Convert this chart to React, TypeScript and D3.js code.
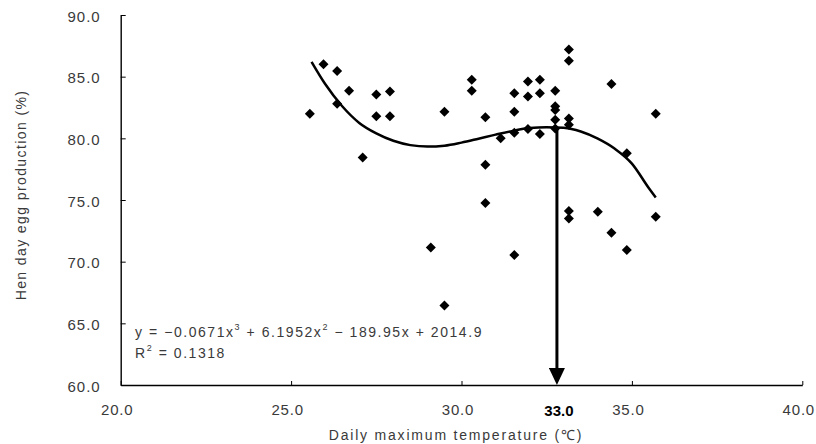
import React, { useRef, useEffect } from 'react';
import * as d3 from 'd3';

// daily max temperature (°C) and hen-day egg production (%)
const temperature = [
  25.55, 25.95, 26.35, 26.35, 26.7, 27.5, 27.9, 27.5, 27.9, 27.1,
  29.5, 30.3, 30.3, 30.7, 30.7, 30.7, 31.15, 31.55, 31.55, 31.55,
  31.95, 31.95, 31.95, 32.3, 32.3, 32.3, 32.75, 32.75, 32.75, 32.75,
  32.75, 33.15, 33.15, 33.15, 33.15, 34.4, 35.7, 34.85, 29.1, 31.55,
  33.15, 33.15, 34.0, 35.7, 34.4, 34.85, 29.5,
];
const eggProduction = [
  82.0, 86.0, 85.45, 82.8, 83.85, 83.55, 83.8, 81.8, 81.8, 78.45,
  82.15, 84.75, 83.85, 81.7, 77.85, 74.75, 80.0, 83.65, 82.15, 80.45,
  84.6, 83.4, 80.75, 84.75, 83.65, 80.35, 83.85, 82.6, 82.3, 81.5,
  80.8, 87.2, 86.3, 81.6, 81.1, 84.4, 82.0, 78.8, 71.15, 70.55,
  74.1, 73.5, 74.05, 73.65, 72.35, 70.95, 66.45,
];

// polynomial trendline
const trendTemp = [
  25.6, 26.0, 26.5, 27.0, 27.5, 28.0, 28.5, 29.0, 29.5, 30.0, 30.5,
  31.0, 31.5, 32.0, 32.5, 33.0, 33.5, 34.0, 34.5, 35.0, 35.5, 35.7,
];
const trendEgg = [
  86.2, 84.4, 82.6, 81.25, 80.4, 79.8, 79.45, 79.33, 79.4, 79.65, 79.97,
  80.3, 80.6, 80.83, 80.9, 80.85, 80.55, 79.97, 79.15, 77.95, 75.95, 75.2,
];

const xTicks = [20, 25, 30, 35, 40];
const yTicks = [60, 65, 70, 75, 80, 85, 90];

const optimumTemp = 32.8;
const optimumEgg = 80.9;
const optimumLabel = '33.0';

const FONT = '"Liberation Sans", Arial, sans-serif';
const GREY = '#3a3a3a';

const App = () => {
  const svgRef = useRef<SVGSVGElement>(null);
  const width = 816;
  const height = 444;

  useEffect(() => {
    if (!svgRef.current) return;
    const svg = d3.select(svgRef.current);
    svg.selectAll('*').remove();

    const x = d3.scaleLinear().domain([20, 40]).range([120.7, 802.3]);
    const y = d3.scaleLinear().domain([60, 90]).range([385, 15]);

    // arrow marker, tip sits on the line end
    svg.append('defs')
      .append('marker')
      .attr('id', 'arrowhead')
      .attr('viewBox', '0 0 16 17')
      .attr('refX', 8)
      .attr('refY', 17)
      .attr('markerWidth', 16)
      .attr('markerHeight', 17)
      .attr('markerUnits', 'userSpaceOnUse')
      .attr('orient', '0')
      .append('path')
      .attr('d', 'M0,0 L16,0 L8,17 Z')
      .attr('fill', '#000');

    // X axis
    const xAxis = svg.append('g')
      .attr('transform', `translate(0,${y(60)})`)
      .call(d3.axisBottom(x).tickValues(xTicks).tickSizeInner(-4).tickSizeOuter(0).tickFormat(d3.format('.1f')));
    xAxis.select('.domain').attr('stroke', '#000').attr('stroke-width', 1.4);
    xAxis.selectAll('line').attr('stroke', '#000').attr('stroke-width', 1);
    xAxis.selectAll('text')
      .attr('y', 30)
      .attr('dy', 0)
      .attr('dx', -4)
      .attr('fill', GREY)
      .attr('font-family', FONT)
      .attr('font-size', 15)
      .attr('letter-spacing', 0.8);

    // Y axis
    const yAxis = svg.append('g')
      .attr('transform', `translate(${x(20)},0)`)
      .call(d3.axisLeft(y).tickValues(yTicks).tickSizeInner(-5).tickSizeOuter(0).tickFormat(d3.format('.1f')));
    yAxis.select('.domain').attr('stroke', '#000').attr('stroke-width', 1.4);
    yAxis.selectAll('line').attr('stroke', '#000').attr('stroke-width', 1);
    yAxis.selectAll('text')
      .attr('x', -20)
      .attr('dy', '0.4em')
      .attr('fill', GREY)
      .attr('font-family', FONT)
      .attr('font-size', 15)
      .attr('letter-spacing', 1);

    // scatter points (diamonds)
    const diamond = d3.symbol().type(d3.symbolSquare).size(50);
    svg.append('g')
      .selectAll('path')
      .data(temperature.map((t, i) => ({ t, v: eggProduction[i] })))
      .enter()
      .append('path')
      .attr('d', diamond)
      .attr('transform', d => `translate(${x(d.t)},${y(d.v)}) rotate(45)`)
      .attr('fill', '#000');

    // trendline
    const line = d3.line<number>()
      .x(d => x(d))
      .y((d, i) => y(trendEgg[i]))
      .curve(d3.curveMonotoneX);
    svg.append('path')
      .datum(trendTemp)
      .attr('fill', 'none')
      .attr('stroke', '#000')
      .attr('stroke-width', 2.5)
      .attr('d', line);

    // arrow down to the optimum temperature
    svg.append('line')
      .attr('x1', x(optimumTemp))
      .attr('x2', x(optimumTemp))
      .attr('y1', y(optimumEgg))
      .attr('y2', y(60) - 6)
      .attr('stroke', '#000')
      .attr('stroke-width', 3);
    svg.append('line')
      .attr('x1', x(optimumTemp))
      .attr('x2', x(optimumTemp))
      .attr('y1', y(60) - 8)
      .attr('y2', y(60))
      .attr('stroke', 'none')
      .attr('marker-end', 'url(#arrowhead)');

    svg.append('text')
      .attr('x', x(optimumTemp) + 2)
      .attr('y', 416)
      .attr('text-anchor', 'middle')
      .attr('font-family', FONT)
      .attr('font-size', 15)
      .attr('font-weight', 'bold')
      .attr('fill', '#000')
      .text(optimumLabel);

    // regression equation
    const eq = svg.append('text')
      .attr('x', 135)
      .attr('y', 337)
      .attr('font-family', FONT)
      .attr('font-size', 14)
      .attr('letter-spacing', 1.55)
      .attr('fill', GREY);
    eq.append('tspan').text('y = \u22120.0671x');
    eq.append('tspan').attr('font-size', 9).attr('dy', -7).text('3');
    eq.append('tspan').attr('dy', 7).text(' + 6.1952x');
    eq.append('tspan').attr('font-size', 9).attr('dy', -7).text('2');
    eq.append('tspan').attr('dy', 7).text(' \u2212 189.95x + 2014.9');

    const r2 = svg.append('text')
      .attr('x', 135)
      .attr('y', 358)
      .attr('font-family', FONT)
      .attr('font-size', 14)
      .attr('letter-spacing', 1.55)
      .attr('fill', GREY);
    r2.append('tspan').text('R');
    r2.append('tspan').attr('font-size', 9).attr('dy', -7).text('2');
    r2.append('tspan').attr('dy', 7).text(' = 0.1318');

    // axis titles
    svg.append('text')
      .attr('transform', `translate(26,195) rotate(-90)`)
      .attr('text-anchor', 'middle')
      .attr('font-family', FONT)
      .attr('font-size', 14)
      .attr('letter-spacing', 1.4)
      .attr('fill', GREY)
      .text('Hen day egg production (%)');

    svg.append('text')
      .attr('x', 456)
      .attr('y', 440)
      .attr('text-anchor', 'middle')
      .attr('font-family', FONT)
      .attr('font-size', 14)
      .attr('letter-spacing', 1.8)
      .attr('fill', GREY)
      .text('Daily maximum temperature (\u2103)');
  }, []);

  return (
    <svg
      ref={svgRef}
      width={width}
      height={height}
      style={{ position: 'absolute', left: 0, top: 0, background: '#fff' }}
    />
  );
};

export default App;
